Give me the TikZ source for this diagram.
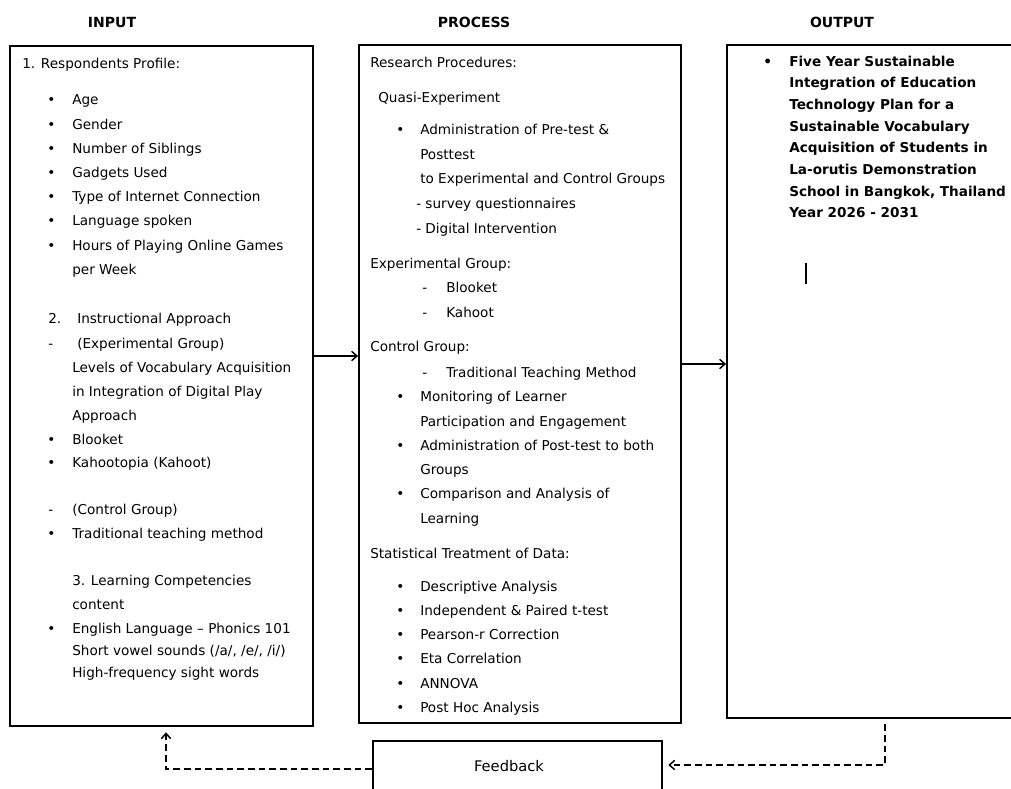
\documentclass[tikz,border=0pt]{standalone}
\usepackage{fontspec}
\setmainfont{DejaVu Sans}
\usetikzlibrary{arrows.meta,fit}

\tikzset{
  panel/.style={draw, line width=1.4pt, inner sep=0pt},
  txt/.style={anchor=base west, inner sep=0pt, font=\fontsize{10.2}{12}\selectfont},
  boldtxt/.style={txt, font=\fontsize{10.2}{12}\selectfont\bfseries},
  head/.style={anchor=base, inner sep=0pt, font=\fontsize{10.5}{12}\selectfont\bfseries},
  flow/.style={-{Straight Barb[length=4pt,width=7pt]}, line width=1.1pt},
  fbline/.style={flow, dash pattern=on 5pt off 3pt}
}

\begin{document}
\begin{tikzpicture}[x=0.75pt, y=-0.75pt]
  %%%%% FRAME %%%%%
  \clip (0,0) rectangle (1011,789);

  %%%%% HEADERS %%%%%
  \node[head] (hin)   at (112,27) {INPUT};
  \node[head] (hproc) at (474,27) {PROCESS};
  \node[head] (hout)  at (842,27) {OUTPUT};

  %%%%% BOXES %%%%%
  \node[panel, fit={(10,46) (313,726)}]   (inbox)   {};
  \node[panel, fit={(359,45) (681,723)}]  (procbox) {};
  \node[panel, fit={(727,45) (1030,718)}] (outbox)  {};
  \node[panel, fit={(373,741) (662,810)}] (fbbox)   {};
  \node[txt, anchor=base, font=\fontsize{11}{13}\selectfont] (fbtext) at (509,771) {Feedback};

  %%%%% INPUT %%%%%
  \node[txt] (in0) at (22,68) {1. Respondents Profile:};
  \foreach \yy/\lbl [count=\i] in {104/Age, 129/Gender, 153/Number of Siblings,
      177/Gadgets Used, 201/Type of Internet Connection, 225/Language spoken,
      250/Hours of Playing Online Games, 444/Blooket, 467/Kahootopia (Kahoot),
      538/Traditional teaching method, 633/English Language -- Phonics 101}{
    \node[txt] (inbul\i) at (47,\yy) {\textbullet};
    \node[txt] (inb\i) at (72,\yy) {\lbl};
  }
  \foreach \yy/\lbl [count=\i] in {274/per Week, 372/Levels of Vocabulary Acquisition,
      396/in Integration of Digital Play, 420/Approach, 514/(Control Group),
      585/3. Learning Competencies, 609/content,
      655/{Short vowel sounds (/a/, /e/, /i/)}, 677/High-frequency sight words}
    \node[txt] (inl\i) at (72,\yy) {\lbl};
  \node[txt] (in2n) at (48,323) {2.};
  \node[txt] (in2)  at (77,323) {Instructional Approach};
  \node[txt] (inda) at (48,348) {-};
  \node[txt] (inex) at (77,348) {(Experimental Group)};
  \node[txt] (indb) at (48,514) {-};

  %%%%% PROCESS %%%%%
  \node[txt] (pr0) at (370,67)  {Research Procedures:};
  \node[txt] (pr1) at (378,102) {Quasi-Experiment};
  \node[txt] (pr2) at (370,268) {Experimental Group:};
  \node[txt] (pr3) at (370,351) {Control Group:};
  \node[txt] (pr4) at (370,558) {Statistical Treatment of Data:};
  \foreach \yy/\lbl [count=\i] in {134/Administration of Pre-test \&,
      401/Monitoring of Learner, 450/Administration of Post-test to both,
      498/Comparison and Analysis of, 591/Descriptive Analysis,
      615/Independent \& Paired t-test, 639/Pearson-r Correction,
      663/Eta Correlation, 688/ANNOVA, 712/Post Hoc Analysis}{
    \node[txt] (prbul\i) at (396,\yy) {\textbullet};
    \node[txt] (prb\i) at (420,\yy) {\lbl};
  }
  \foreach \yy/\lbl [count=\i] in {159/Posttest, 183/to Experimental and Control Groups,
      426/Participation and Engagement, 474/Groups, 523/Learning}
    \node[txt] (prl\i) at (420,\yy) {\lbl};
  \node[txt] (prs1) at (416,208) {- survey questionnaires};
  \node[txt] (prs2) at (416,233) {- Digital Intervention};
  \foreach \yy/\lbl [count=\i] in {292/Blooket, 317/Kahoot, 377/Traditional Teaching Method}{
    \node[txt] (prdash\i) at (422,\yy) {-};
    \node[txt] (prd\i) at (446,\yy) {\lbl};
  }

  %%%%% OUTPUT %%%%%
  \node[boldtxt] (outbul) at (763,66) {\textbullet};
  \foreach \lbl [count=\i] in {Five Year Sustainable, Integration of Education,
      Technology Plan for a, Sustainable Vocabulary, Acquisition of Students in,
      La-orutis Demonstration, {School in Bangkok, Thailand}, Year 2026 - 2031}
    \node[boldtxt] (out\i) at (789,{66+21.7*(\i-1)}) {\lbl};
  \draw[line width=0.8pt] (806,263) -- (806,284);

  %%%%% CONNECTORS %%%%%
  \coordinate (ya) at (0,356);
  \coordinate (yb) at (0,364);
  \draw[flow] (inbox.east |- ya) -- (procbox.west |- ya);
  \draw[flow] (procbox.east |- yb) -- (outbox.west |- yb);
  \coordinate (xo) at (885,0);
  \coordinate (yo) at (0,765);
  \draw[fbline, shorten <=4pt, shorten >=4pt] (outbox.south -| xo) |- (fbbox.east |- yo);
  \coordinate (xi) at (166,0);
  \coordinate (yi) at (0,769);
  \draw[fbline, shorten >=4pt] (fbbox.west |- yi) -| (inbox.south -| xi);
\end{tikzpicture}
\end{document}
